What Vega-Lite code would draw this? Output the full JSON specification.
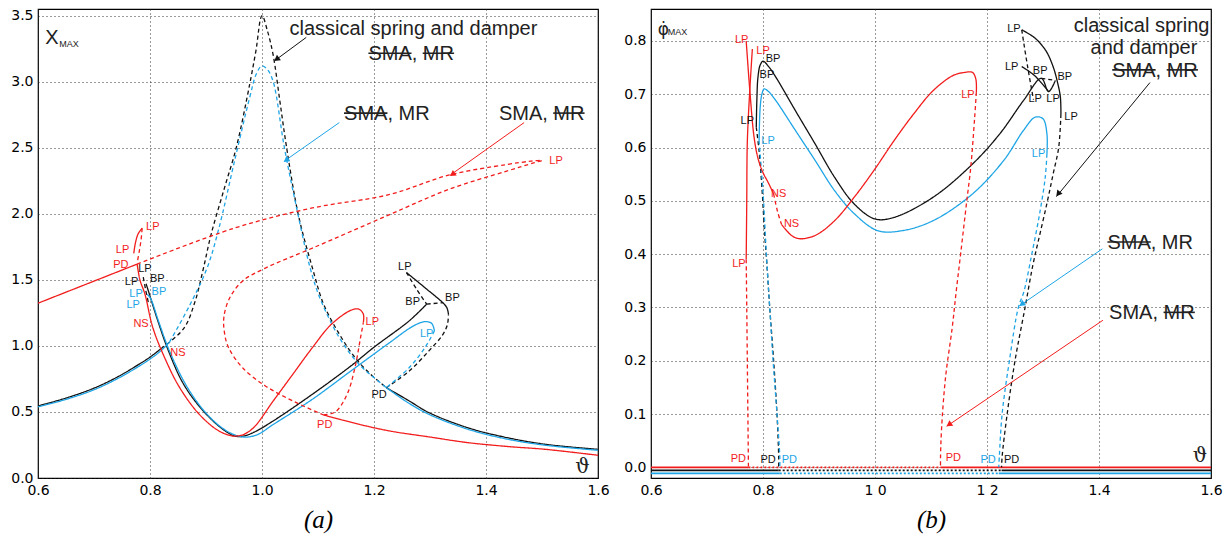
{
"$schema":"https://vega.github.io/schema/vega-lite/v6.json",
"background":"white",
"padding":{"left":10,"top":8,"right":5,"bottom":3},
"spacing":13,
"config":{
 "view":{"stroke":"#000","strokeWidth":1.2},
 "axis":{"grid":true,"gridColor":"#222","gridDash":[1,3],"gridWidth":1,"gridOpacity":0.9,"ticks":false,"domain":false,"labelFont":"DejaVu Sans","labelFontSize":14,"labelColor":"#000","labelPadding":5,"labelFlush":false,"labelOverlap":false,"labelBound":false,"titleFont":"Liberation Serif","titleFontStyle":"italic","titleFontWeight":"normal","titleFontSize":25,"titleColor":"#000","titlePadding":10}
},
"datasets":{
"curvesA":[
{"b":"A1","s":"classical","t":"stable","x":0.6,"y":0.545},{"b":"A1","s":"classical","t":"stable","x":0.65,"y":0.605},{"b":"A1","s":"classical","t":"stable","x":0.7,"y":0.68},{"b":"A1","s":"classical","t":"stable","x":0.742,"y":0.765},{"b":"A1","s":"classical","t":"stable","x":0.78,"y":0.86},{"b":"A1","s":"classical","t":"stable","x":0.8,"y":0.915},{"b":"A1","s":"classical","t":"stable","x":0.82,"y":0.98},
{"b":"A2","s":"classical","t":"unstable","x":0.82,"y":0.98},{"b":"A2","s":"classical","t":"unstable","x":0.86,"y":1.13},{"b":"A2","s":"classical","t":"unstable","x":0.88,"y":1.33},{"b":"A2","s":"classical","t":"unstable","x":0.895,"y":1.58},{"b":"A2","s":"classical","t":"unstable","x":0.909,"y":1.842},{"b":"A2","s":"classical","t":"unstable","x":0.933,"y":2.196},{"b":"A2","s":"classical","t":"unstable","x":0.954,"y":2.5},{"b":"A2","s":"classical","t":"unstable","x":0.978,"y":2.98},{"b":"A2","s":"classical","t":"unstable","x":0.989,"y":3.23},{"b":"A2","s":"classical","t":"unstable","x":1.0,"y":3.5},{"b":"A2","s":"classical","t":"unstable","x":1.01,"y":3.38},{"b":"A2","s":"classical","t":"unstable","x":1.02,"y":3.2},{"b":"A2","s":"classical","t":"unstable","x":1.032,"y":2.85},{"b":"A2","s":"classical","t":"unstable","x":1.044,"y":2.5},{"b":"A2","s":"classical","t":"unstable","x":1.065,"y":1.99},{"b":"A2","s":"classical","t":"unstable","x":1.09,"y":1.59},{"b":"A2","s":"classical","t":"unstable","x":1.11,"y":1.316},{"b":"A2","s":"classical","t":"unstable","x":1.138,"y":1.09},{"b":"A2","s":"classical","t":"unstable","x":1.166,"y":0.912},{"b":"A2","s":"classical","t":"unstable","x":1.194,"y":0.785},{"b":"A2","s":"classical","t":"unstable","x":1.222,"y":0.684},
{"b":"A3","s":"classical","t":"stable","x":1.222,"y":0.684},{"b":"A3","s":"classical","t":"stable","x":1.263,"y":0.583},{"b":"A3","s":"classical","t":"stable","x":1.298,"y":0.495},{"b":"A3","s":"classical","t":"stable","x":1.367,"y":0.381},{"b":"A3","s":"classical","t":"stable","x":1.437,"y":0.306},{"b":"A3","s":"classical","t":"stable","x":1.506,"y":0.255},{"b":"A3","s":"classical","t":"stable","x":1.6,"y":0.217},
{"b":"A4","s":"classical","t":"unstable","x":1.222,"y":0.684},{"b":"A4","s":"classical","t":"unstable","x":1.263,"y":0.81},{"b":"A4","s":"classical","t":"unstable","x":1.298,"y":0.962},{"b":"A4","s":"classical","t":"unstable","x":1.322,"y":1.08},{"b":"A4","s":"classical","t":"unstable","x":1.331,"y":1.16},{"b":"A4","s":"classical","t":"unstable","x":1.333,"y":1.24},
{"b":"A5","s":"classical","t":"stable","x":1.333,"y":1.24},{"b":"A5","s":"classical","t":"stable","x":1.33,"y":1.29},{"b":"A5","s":"classical","t":"stable","x":1.322,"y":1.33},{"b":"A5","s":"classical","t":"stable","x":1.294,"y":1.43},{"b":"A5","s":"classical","t":"stable","x":1.258,"y":1.555},
{"b":"A6","s":"classical","t":"unstable","x":1.258,"y":1.555},{"b":"A6","s":"classical","t":"unstable","x":1.276,"y":1.43},{"b":"A6","s":"classical","t":"unstable","x":1.294,"y":1.316},
{"b":"A7","s":"classical","t":"unstable","x":1.294,"y":1.316},{"b":"A7","s":"classical","t":"unstable","x":1.324,"y":1.328},
{"b":"A8","s":"classical","t":"stable","x":0.793,"y":1.47},{"b":"A8","s":"classical","t":"stable","x":0.798,"y":1.404},{"b":"A8","s":"classical","t":"stable","x":0.812,"y":1.215},{"b":"A8","s":"classical","t":"stable","x":0.833,"y":0.962},{"b":"A8","s":"classical","t":"stable","x":0.86,"y":0.71},{"b":"A8","s":"classical","t":"stable","x":0.895,"y":0.508},{"b":"A8","s":"classical","t":"stable","x":0.93,"y":0.369},{"b":"A8","s":"classical","t":"stable","x":0.951,"y":0.318},{"b":"A8","s":"classical","t":"stable","x":0.965,"y":0.315},{"b":"A8","s":"classical","t":"stable","x":0.985,"y":0.345},{"b":"A8","s":"classical","t":"stable","x":1.02,"y":0.432},{"b":"A8","s":"classical","t":"stable","x":1.09,"y":0.634},{"b":"A8","s":"classical","t":"stable","x":1.159,"y":0.849},{"b":"A8","s":"classical","t":"stable","x":1.2,"y":0.99},{"b":"A8","s":"classical","t":"stable","x":1.263,"y":1.19},{"b":"A8","s":"classical","t":"stable","x":1.294,"y":1.316},
{"b":"A9","s":"classical","t":"unstable","x":0.788,"y":1.52},{"b":"A9","s":"classical","t":"unstable","x":0.792,"y":1.43},{"b":"A9","s":"classical","t":"unstable","x":0.797,"y":1.33},
{"b":"C1","s":"MR","t":"stable","x":0.6,"y":0.538},{"b":"C1","s":"MR","t":"stable","x":0.65,"y":0.595},{"b":"C1","s":"MR","t":"stable","x":0.7,"y":0.668},{"b":"C1","s":"MR","t":"stable","x":0.742,"y":0.752},{"b":"C1","s":"MR","t":"stable","x":0.78,"y":0.845},{"b":"C1","s":"MR","t":"stable","x":0.8,"y":0.9},{"b":"C1","s":"MR","t":"stable","x":0.82,"y":0.965},{"b":"C1","s":"MR","t":"stable","x":0.835,"y":1.03},
{"b":"C2","s":"MR","t":"unstable","x":0.835,"y":1.03},{"b":"C2","s":"MR","t":"unstable","x":0.87,"y":1.3},{"b":"C2","s":"MR","t":"unstable","x":0.902,"y":1.59},{"b":"C2","s":"MR","t":"unstable","x":0.923,"y":1.89},{"b":"C2","s":"MR","t":"unstable","x":0.951,"y":2.4},{"b":"C2","s":"MR","t":"unstable","x":0.978,"y":2.88},{"b":"C2","s":"MR","t":"unstable","x":0.99,"y":3.06},{"b":"C2","s":"MR","t":"unstable","x":1.0,"y":3.12},{"b":"C2","s":"MR","t":"unstable","x":1.01,"y":3.09},{"b":"C2","s":"MR","t":"unstable","x":1.02,"y":3.0},{"b":"C2","s":"MR","t":"unstable","x":1.04,"y":2.5},{"b":"C2","s":"MR","t":"unstable","x":1.062,"y":2.04},{"b":"C2","s":"MR","t":"unstable","x":1.086,"y":1.59},{"b":"C2","s":"MR","t":"unstable","x":1.103,"y":1.366},{"b":"C2","s":"MR","t":"unstable","x":1.138,"y":1.063},{"b":"C2","s":"MR","t":"unstable","x":1.173,"y":0.861},{"b":"C2","s":"MR","t":"unstable","x":1.2,"y":0.76},{"b":"C2","s":"MR","t":"unstable","x":1.222,"y":0.684},
{"b":"C3","s":"MR","t":"stable","x":1.222,"y":0.684},{"b":"C3","s":"MR","t":"stable","x":1.26,"y":0.572},{"b":"C3","s":"MR","t":"stable","x":1.298,"y":0.482},{"b":"C3","s":"MR","t":"stable","x":1.367,"y":0.37},{"b":"C3","s":"MR","t":"stable","x":1.437,"y":0.295},{"b":"C3","s":"MR","t":"stable","x":1.506,"y":0.248},{"b":"C3","s":"MR","t":"stable","x":1.6,"y":0.21},
{"b":"C4","s":"MR","t":"stable","x":0.795,"y":1.39},{"b":"C4","s":"MR","t":"stable","x":0.801,"y":1.36},{"b":"C4","s":"MR","t":"stable","x":0.815,"y":1.19},{"b":"C4","s":"MR","t":"stable","x":0.836,"y":0.949},{"b":"C4","s":"MR","t":"stable","x":0.867,"y":0.684},{"b":"C4","s":"MR","t":"stable","x":0.902,"y":0.482},{"b":"C4","s":"MR","t":"stable","x":0.937,"y":0.356},{"b":"C4","s":"MR","t":"stable","x":0.965,"y":0.311},{"b":"C4","s":"MR","t":"stable","x":0.99,"y":0.325},{"b":"C4","s":"MR","t":"stable","x":1.02,"y":0.405},{"b":"C4","s":"MR","t":"stable","x":1.09,"y":0.596},{"b":"C4","s":"MR","t":"stable","x":1.159,"y":0.811},{"b":"C4","s":"MR","t":"stable","x":1.228,"y":1.025},{"b":"C4","s":"MR","t":"stable","x":1.27,"y":1.15},{"b":"C4","s":"MR","t":"stable","x":1.291,"y":1.184},{"b":"C4","s":"MR","t":"stable","x":1.303,"y":1.17},{"b":"C4","s":"MR","t":"stable","x":1.308,"y":1.114},
{"b":"C5","s":"MR","t":"unstable","x":1.308,"y":1.114},{"b":"C5","s":"MR","t":"unstable","x":1.291,"y":0.987},{"b":"C5","s":"MR","t":"unstable","x":1.263,"y":0.836},{"b":"C5","s":"MR","t":"unstable","x":1.222,"y":0.684},
{"b":"R1","s":"SMA","t":"stable","x":0.6,"y":1.323},{"b":"R1","s":"SMA","t":"stable","x":0.777,"y":1.619},
{"b":"R2","s":"SMA","t":"unstable","x":0.777,"y":1.619},{"b":"R2","s":"SMA","t":"unstable","x":0.951,"y":1.892},{"b":"R2","s":"SMA","t":"unstable","x":1.09,"y":2.044},{"b":"R2","s":"SMA","t":"unstable","x":1.228,"y":2.146},{"b":"R2","s":"SMA","t":"unstable","x":1.333,"y":2.292},{"b":"R2","s":"SMA","t":"unstable","x":1.437,"y":2.373},{"b":"R2","s":"SMA","t":"unstable","x":1.48,"y":2.398},{"b":"R2","s":"SMA","t":"unstable","x":1.5,"y":2.404},{"b":"R2","s":"SMA","t":"unstable","x":1.485,"y":2.385},{"b":"R2","s":"SMA","t":"unstable","x":1.437,"y":2.323},{"b":"R2","s":"SMA","t":"unstable","x":1.333,"y":2.184},{"b":"R2","s":"SMA","t":"unstable","x":1.228,"y":1.994},{"b":"R2","s":"SMA","t":"unstable","x":1.09,"y":1.74},{"b":"R2","s":"SMA","t":"unstable","x":1.006,"y":1.589},{"b":"R2","s":"SMA","t":"unstable","x":0.965,"y":1.49},{"b":"R2","s":"SMA","t":"unstable","x":0.942,"y":1.36},{"b":"R2","s":"SMA","t":"unstable","x":0.932,"y":1.22},{"b":"R2","s":"SMA","t":"unstable","x":0.933,"y":1.1},{"b":"R2","s":"SMA","t":"unstable","x":0.94,"y":0.99},{"b":"R2","s":"SMA","t":"unstable","x":0.965,"y":0.836},{"b":"R2","s":"SMA","t":"unstable","x":1.006,"y":0.697},{"b":"R2","s":"SMA","t":"unstable","x":1.055,"y":0.583},{"b":"R2","s":"SMA","t":"unstable","x":1.11,"y":0.477},
{"b":"R3","s":"SMA","t":"stable","x":1.11,"y":0.477},{"b":"R3","s":"SMA","t":"stable","x":1.17,"y":0.41},{"b":"R3","s":"SMA","t":"stable","x":1.228,"y":0.356},{"b":"R3","s":"SMA","t":"stable","x":1.3,"y":0.31},{"b":"R3","s":"SMA","t":"stable","x":1.367,"y":0.268},{"b":"R3","s":"SMA","t":"stable","x":1.44,"y":0.238},{"b":"R3","s":"SMA","t":"stable","x":1.506,"y":0.217},{"b":"R3","s":"SMA","t":"stable","x":1.6,"y":0.172},
{"b":"R4","s":"SMA","t":"unstable","x":1.11,"y":0.477},{"b":"R4","s":"SMA","t":"unstable","x":1.131,"y":0.5},{"b":"R4","s":"SMA","t":"unstable","x":1.152,"y":0.634},{"b":"R4","s":"SMA","t":"unstable","x":1.166,"y":0.836},{"b":"R4","s":"SMA","t":"unstable","x":1.176,"y":1.063},{"b":"R4","s":"SMA","t":"unstable","x":1.181,"y":1.177},
{"b":"R5","s":"SMA","t":"stable","x":1.181,"y":1.177},{"b":"R5","s":"SMA","t":"stable","x":1.181,"y":1.24},{"b":"R5","s":"SMA","t":"stable","x":1.173,"y":1.278},{"b":"R5","s":"SMA","t":"stable","x":1.159,"y":1.27},{"b":"R5","s":"SMA","t":"stable","x":1.124,"y":1.164},{"b":"R5","s":"SMA","t":"stable","x":1.09,"y":0.987},{"b":"R5","s":"SMA","t":"stable","x":1.055,"y":0.785},{"b":"R5","s":"SMA","t":"stable","x":1.02,"y":0.583},{"b":"R5","s":"SMA","t":"stable","x":0.985,"y":0.381},{"b":"R5","s":"SMA","t":"stable","x":0.965,"y":0.325},{"b":"R5","s":"SMA","t":"stable","x":0.954,"y":0.318},
{"b":"R6","s":"SMA","t":"stable","x":0.777,"y":1.619},{"b":"R6","s":"SMA","t":"stable","x":0.782,"y":1.5},{"b":"R6","s":"SMA","t":"stable","x":0.791,"y":1.391},{"b":"R6","s":"SMA","t":"stable","x":0.805,"y":1.139},{"b":"R6","s":"SMA","t":"stable","x":0.826,"y":0.912},{"b":"R6","s":"SMA","t":"stable","x":0.853,"y":0.684},{"b":"R6","s":"SMA","t":"stable","x":0.888,"y":0.482},{"b":"R6","s":"SMA","t":"stable","x":0.923,"y":0.356},{"b":"R6","s":"SMA","t":"stable","x":0.947,"y":0.318},{"b":"R6","s":"SMA","t":"stable","x":0.954,"y":0.318},
{"b":"R7","s":"SMA","t":"stable","x":0.771,"y":1.7},{"b":"R7","s":"SMA","t":"stable","x":0.774,"y":1.78},{"b":"R7","s":"SMA","t":"stable","x":0.779,"y":1.85},{"b":"R7","s":"SMA","t":"stable","x":0.786,"y":1.89},
{"b":"R8","s":"SMA","t":"unstable","x":0.786,"y":1.89},{"b":"R8","s":"SMA","t":"unstable","x":0.784,"y":1.8},{"b":"R8","s":"SMA","t":"unstable","x":0.781,"y":1.72},{"b":"R8","s":"SMA","t":"unstable","x":0.778,"y":1.65}
],
"labelsA":[
{"x":0.805,"y":1.897,"text":"LP","s":"SMA"},{"x":0.751,"y":1.728,"text":"LP","s":"SMA"},{"x":0.748,"y":1.61,"text":"PD","s":"SMA"},{"x":0.791,"y":1.585,"text":"LP","s":"classical"},{"x":0.813,"y":1.505,"text":"BP","s":"classical"},{"x":0.767,"y":1.48,"text":"LP","s":"classical"},{"x":0.775,"y":1.395,"text":"LP","s":"MR"},{"x":0.816,"y":1.41,"text":"BP","s":"MR"},{"x":0.77,"y":1.31,"text":"LP","s":"MR"},{"x":0.784,"y":1.164,"text":"NS","s":"SMA"},{"x":0.85,"y":0.949,"text":"NS","s":"SMA"},{"x":1.197,"y":1.184,"text":"LP","s":"SMA"},{"x":1.525,"y":2.4,"text":"LP","s":"SMA"},{"x":1.255,"y":1.6,"text":"LP","s":"classical"},{"x":1.269,"y":1.333,"text":"BP","s":"classical"},{"x":1.34,"y":1.366,"text":"BP","s":"classical"},{"x":1.294,"y":1.093,"text":"LP","s":"MR"},{"x":1.209,"y":0.629,"text":"PD","s":"classical"},{"x":1.112,"y":0.399,"text":"PD","s":"SMA"}
],
"annA":[
{"x":1.049,"y":3.35,"text":"classical spring and damper"},{"x":1.19,"y":3.163,"text":"SMA, MR"},{"x":1.1465,"y":2.71,"text":"SMA, MR"},{"x":1.423,"y":2.71,"text":"SMA, MR"}
],
"strikeA":[
{"x":1.19,"x2":1.267,"y":3.215},{"x":1.287,"x2":1.343,"y":3.215},{"x":1.1465,"x2":1.224,"y":2.762},{"x":1.52,"x2":1.576,"y":2.762}
],
"arrowsA":[
{"s":"classical","x":1.079,"y":3.335,"x2":1.024,"y2":3.163},{"s":"MR","x":1.138,"y":2.69,"x2":1.04,"y2":2.399},{"s":"SMA","x":1.468,"y":2.69,"x2":1.336,"y2":2.292}
],
"headsA":[
{"s":"classical","x":1.026,"y":3.17,"ang":234},{"s":"MR","x":1.043,"y":2.405,"ang":235},{"s":"SMA","x":1.34,"y":2.298,"ang":235}
],
"curvesB":[
{"b":"B1","s":"classical","t":"stable","x":0.788,"y":0.638},{"b":"B1","s":"classical","t":"stable","x":0.789,"y":0.688},{"b":"B1","s":"classical","t":"stable","x":0.791,"y":0.732},{"b":"B1","s":"classical","t":"stable","x":0.795,"y":0.755},{"b":"B1","s":"classical","t":"stable","x":0.8,"y":0.762},{"b":"B1","s":"classical","t":"stable","x":0.81,"y":0.752},{"b":"B1","s":"classical","t":"stable","x":0.823,"y":0.732},{"b":"B1","s":"classical","t":"stable","x":0.858,"y":0.669},{"b":"B1","s":"classical","t":"stable","x":0.893,"y":0.607},{"b":"B1","s":"classical","t":"stable","x":0.928,"y":0.544},{"b":"B1","s":"classical","t":"stable","x":0.963,"y":0.494},{"b":"B1","s":"classical","t":"stable","x":1.0,"y":0.466},{"b":"B1","s":"classical","t":"stable","x":1.034,"y":0.469},{"b":"B1","s":"classical","t":"stable","x":1.104,"y":0.507},{"b":"B1","s":"classical","t":"stable","x":1.174,"y":0.569},{"b":"B1","s":"classical","t":"stable","x":1.223,"y":0.626},{"b":"B1","s":"classical","t":"stable","x":1.265,"y":0.688},{"b":"B1","s":"classical","t":"stable","x":1.297,"y":0.73},{"b":"B1","s":"classical","t":"stable","x":1.31,"y":0.705},{"b":"B1","s":"classical","t":"stable","x":1.322,"y":0.726},
{"b":"B2","s":"classical","t":"stable","x":1.262,"y":0.752},{"b":"B2","s":"classical","t":"stable","x":1.285,"y":0.735},{"b":"B2","s":"classical","t":"stable","x":1.31,"y":0.705},
{"b":"B3","s":"classical","t":"stable","x":1.262,"y":0.821},{"b":"B3","s":"classical","t":"stable","x":1.285,"y":0.806},{"b":"B3","s":"classical","t":"stable","x":1.305,"y":0.782},{"b":"B3","s":"classical","t":"stable","x":1.318,"y":0.752},{"b":"B3","s":"classical","t":"stable","x":1.326,"y":0.722},{"b":"B3","s":"classical","t":"stable","x":1.331,"y":0.695},{"b":"B3","s":"classical","t":"stable","x":1.332,"y":0.663},
{"b":"B4","s":"classical","t":"unstable","x":1.262,"y":0.821},{"b":"B4","s":"classical","t":"unstable","x":1.272,"y":0.755},{"b":"B4","s":"classical","t":"unstable","x":1.283,"y":0.69},
{"b":"B5","s":"classical","t":"unstable","x":1.297,"y":0.73},{"b":"B5","s":"classical","t":"unstable","x":1.322,"y":0.726},
{"b":"B6","s":"classical","t":"unstable","x":1.332,"y":0.663},{"b":"B6","s":"classical","t":"unstable","x":1.328,"y":0.6},{"b":"B6","s":"classical","t":"unstable","x":1.318,"y":0.55},{"b":"B6","s":"classical","t":"unstable","x":1.308,"y":0.5},{"b":"B6","s":"classical","t":"unstable","x":1.295,"y":0.44},{"b":"B6","s":"classical","t":"unstable","x":1.282,"y":0.38},{"b":"B6","s":"classical","t":"unstable","x":1.268,"y":0.3},{"b":"B6","s":"classical","t":"unstable","x":1.25,"y":0.2},{"b":"B6","s":"classical","t":"unstable","x":1.236,"y":0.1},{"b":"B6","s":"classical","t":"unstable","x":1.227,"y":0.02},{"b":"B6","s":"classical","t":"unstable","x":1.226,"y":0.0},
{"b":"B7","s":"classical","t":"unstable","x":0.788,"y":0.638},{"b":"B7","s":"classical","t":"unstable","x":0.793,"y":0.594},{"b":"B7","s":"classical","t":"unstable","x":0.798,"y":0.526},{"b":"B7","s":"classical","t":"unstable","x":0.803,"y":0.438},{"b":"B7","s":"classical","t":"unstable","x":0.807,"y":0.38},{"b":"B7","s":"classical","t":"unstable","x":0.812,"y":0.3},{"b":"B7","s":"classical","t":"unstable","x":0.819,"y":0.2},{"b":"B7","s":"classical","t":"unstable","x":0.825,"y":0.1},{"b":"B7","s":"classical","t":"unstable","x":0.828,"y":0.02},{"b":"B7","s":"classical","t":"unstable","x":0.828,"y":0.0},
{"b":"M1","s":"MR","t":"stable","x":0.793,"y":0.613},{"b":"M1","s":"MR","t":"stable","x":0.795,"y":0.676},{"b":"M1","s":"MR","t":"stable","x":0.798,"y":0.7},{"b":"M1","s":"MR","t":"stable","x":0.802,"y":0.71},{"b":"M1","s":"MR","t":"stable","x":0.81,"y":0.705},{"b":"M1","s":"MR","t":"stable","x":0.823,"y":0.688},{"b":"M1","s":"MR","t":"stable","x":0.858,"y":0.632},{"b":"M1","s":"MR","t":"stable","x":0.893,"y":0.576},{"b":"M1","s":"MR","t":"stable","x":0.928,"y":0.519},{"b":"M1","s":"MR","t":"stable","x":0.963,"y":0.476},{"b":"M1","s":"MR","t":"stable","x":1.005,"y":0.444},{"b":"M1","s":"MR","t":"stable","x":1.048,"y":0.444},{"b":"M1","s":"MR","t":"stable","x":1.104,"y":0.463},{"b":"M1","s":"MR","t":"stable","x":1.174,"y":0.513},{"b":"M1","s":"MR","t":"stable","x":1.23,"y":0.576},{"b":"M1","s":"MR","t":"stable","x":1.265,"y":0.632},{"b":"M1","s":"MR","t":"stable","x":1.286,"y":0.657},{"b":"M1","s":"MR","t":"stable","x":1.3,"y":0.654},{"b":"M1","s":"MR","t":"stable","x":1.307,"y":0.626},{"b":"M1","s":"MR","t":"stable","x":1.307,"y":0.588},
{"b":"M2","s":"MR","t":"unstable","x":1.307,"y":0.588},{"b":"M2","s":"MR","t":"unstable","x":1.304,"y":0.544},{"b":"M2","s":"MR","t":"unstable","x":1.294,"y":0.476},{"b":"M2","s":"MR","t":"unstable","x":1.28,"y":0.4},{"b":"M2","s":"MR","t":"unstable","x":1.266,"y":0.33},{"b":"M2","s":"MR","t":"unstable","x":1.256,"y":0.3},{"b":"M2","s":"MR","t":"unstable","x":1.24,"y":0.2},{"b":"M2","s":"MR","t":"unstable","x":1.227,"y":0.1},{"b":"M2","s":"MR","t":"unstable","x":1.222,"y":0.02},{"b":"M2","s":"MR","t":"unstable","x":1.221,"y":0.0},
{"b":"M3","s":"MR","t":"unstable","x":0.793,"y":0.613},{"b":"M3","s":"MR","t":"unstable","x":0.797,"y":0.56},{"b":"M3","s":"MR","t":"unstable","x":0.801,"y":0.5},{"b":"M3","s":"MR","t":"unstable","x":0.806,"y":0.4},{"b":"M3","s":"MR","t":"unstable","x":0.812,"y":0.3},{"b":"M3","s":"MR","t":"unstable","x":0.818,"y":0.2},{"b":"M3","s":"MR","t":"unstable","x":0.825,"y":0.1},{"b":"M3","s":"MR","t":"unstable","x":0.83,"y":0.02},{"b":"M3","s":"MR","t":"unstable","x":0.83,"y":0.0},
{"b":"S1","s":"SMA","t":"stable","x":0.77,"y":0.8},{"b":"S1","s":"SMA","t":"stable","x":0.777,"y":0.7},{"b":"S1","s":"SMA","t":"stable","x":0.784,"y":0.62},{"b":"S1","s":"SMA","t":"stable","x":0.791,"y":0.58},{"b":"S1","s":"SMA","t":"stable","x":0.8,"y":0.553},{"b":"S1","s":"SMA","t":"stable","x":0.809,"y":0.535},{"b":"S1","s":"SMA","t":"stable","x":0.819,"y":0.513},
{"b":"S2","s":"SMA","t":"stable","x":0.781,"y":0.785},{"b":"S2","s":"SMA","t":"stable","x":0.776,"y":0.7},{"b":"S2","s":"SMA","t":"stable","x":0.772,"y":0.61},{"b":"S2","s":"SMA","t":"stable","x":0.771,"y":0.5},{"b":"S2","s":"SMA","t":"stable","x":0.77,"y":0.39},
{"b":"S3","s":"SMA","t":"unstable","x":0.77,"y":0.39},{"b":"S3","s":"SMA","t":"unstable","x":0.771,"y":0.3},{"b":"S3","s":"SMA","t":"unstable","x":0.772,"y":0.2},{"b":"S3","s":"SMA","t":"unstable","x":0.773,"y":0.1},{"b":"S3","s":"SMA","t":"unstable","x":0.774,"y":0.0},
{"b":"S4","s":"SMA","t":"unstable","x":0.819,"y":0.513},{"b":"S4","s":"SMA","t":"unstable","x":0.826,"y":0.48},{"b":"S4","s":"SMA","t":"unstable","x":0.833,"y":0.456},
{"b":"S5","s":"SMA","t":"stable","x":0.833,"y":0.456},{"b":"S5","s":"SMA","t":"stable","x":0.851,"y":0.435},{"b":"S5","s":"SMA","t":"stable","x":0.865,"y":0.429},{"b":"S5","s":"SMA","t":"stable","x":0.893,"y":0.435},{"b":"S5","s":"SMA","t":"stable","x":0.928,"y":0.463},{"b":"S5","s":"SMA","t":"stable","x":0.963,"y":0.507},{"b":"S5","s":"SMA","t":"stable","x":0.998,"y":0.557},{"b":"S5","s":"SMA","t":"stable","x":1.034,"y":0.613},{"b":"S5","s":"SMA","t":"stable","x":1.069,"y":0.663},{"b":"S5","s":"SMA","t":"stable","x":1.104,"y":0.707},{"b":"S5","s":"SMA","t":"stable","x":1.139,"y":0.735},{"b":"S5","s":"SMA","t":"stable","x":1.16,"y":0.741},{"b":"S5","s":"SMA","t":"stable","x":1.174,"y":0.741},{"b":"S5","s":"SMA","t":"stable","x":1.18,"y":0.729},{"b":"S5","s":"SMA","t":"stable","x":1.181,"y":0.704},
{"b":"S6","s":"SMA","t":"unstable","x":1.181,"y":0.704},{"b":"S6","s":"SMA","t":"unstable","x":1.178,"y":0.657},{"b":"S6","s":"SMA","t":"unstable","x":1.171,"y":0.563},{"b":"S6","s":"SMA","t":"unstable","x":1.164,"y":0.501},{"b":"S6","s":"SMA","t":"unstable","x":1.153,"y":0.401},{"b":"S6","s":"SMA","t":"unstable","x":1.145,"y":0.33},{"b":"S6","s":"SMA","t":"unstable","x":1.138,"y":0.263},{"b":"S6","s":"SMA","t":"unstable","x":1.126,"y":0.169},{"b":"S6","s":"SMA","t":"unstable","x":1.119,"y":0.075},{"b":"S6","s":"SMA","t":"unstable","x":1.117,"y":0.019},{"b":"S6","s":"SMA","t":"unstable","x":1.117,"y":0.0}
],
"baseB":[
{"b":"Z1","s":"SMA","t":"stable","x":0.6,"y":0.0},{"b":"Z1","s":"SMA","t":"stable","x":0.774,"y":0.0},
{"b":"Z2","s":"SMA","t":"unstable","x":0.774,"y":0.0},{"b":"Z2","s":"SMA","t":"unstable","x":1.117,"y":0.0},
{"b":"Z3","s":"SMA","t":"stable","x":1.117,"y":0.0},{"b":"Z3","s":"SMA","t":"stable","x":1.6,"y":0.0},
{"b":"Z4","s":"classical","t":"stable","x":0.6,"y":-0.0056},{"b":"Z4","s":"classical","t":"stable","x":0.828,"y":-0.0056},
{"b":"Z5","s":"classical","t":"unstable","x":0.828,"y":-0.0056},{"b":"Z5","s":"classical","t":"unstable","x":1.226,"y":-0.0056},
{"b":"Z6","s":"classical","t":"stable","x":1.226,"y":-0.0056},{"b":"Z6","s":"classical","t":"stable","x":1.6,"y":-0.0056},
{"b":"Z7","s":"MR","t":"stable","x":0.6,"y":-0.0113},{"b":"Z7","s":"MR","t":"stable","x":0.83,"y":-0.0113},
{"b":"Z8","s":"MR","t":"unstable","x":0.83,"y":-0.0113},{"b":"Z8","s":"MR","t":"unstable","x":1.221,"y":-0.0113},
{"b":"Z9","s":"MR","t":"stable","x":1.221,"y":-0.0113},{"b":"Z9","s":"MR","t":"stable","x":1.6,"y":-0.0113}
],
"labelsB":[
{"x":0.762,"y":0.802,"text":"LP","s":"SMA"},{"x":0.8,"y":0.782,"text":"LP","s":"SMA"},{"x":0.818,"y":0.767,"text":"BP","s":"classical"},{"x":0.807,"y":0.737,"text":"BP","s":"classical"},{"x":0.772,"y":0.649,"text":"LP","s":"classical"},{"x":0.809,"y":0.612,"text":"LP","s":"MR"},{"x":0.828,"y":0.513,"text":"NS","s":"SMA"},{"x":0.851,"y":0.456,"text":"NS","s":"SMA"},{"x":0.757,"y":0.382,"text":"LP","s":"SMA"},{"x":1.166,"y":0.699,"text":"LP","s":"SMA"},{"x":1.248,"y":0.822,"text":"LP","s":"classical"},{"x":1.244,"y":0.752,"text":"LP","s":"classical"},{"x":1.295,"y":0.744,"text":"BP","s":"classical"},{"x":1.339,"y":0.733,"text":"BP","s":"classical"},{"x":1.286,"y":0.691,"text":"LP","s":"classical"},{"x":1.318,"y":0.691,"text":"LP","s":"classical"},{"x":1.35,"y":0.658,"text":"LP","s":"classical"},{"x":1.292,"y":0.588,"text":"LP","s":"MR"},{"x":0.756,"y":0.016,"text":"PD","s":"SMA"},{"x":0.809,"y":0.014,"text":"PD","s":"classical"},{"x":0.847,"y":0.014,"text":"PD","s":"MR"},{"x":1.14,"y":0.018,"text":"PD","s":"SMA"},{"x":1.202,"y":0.014,"text":"PD","s":"MR"},{"x":1.244,"y":0.014,"text":"PD","s":"classical"}
],
"annB":[
{"x":1.355,"y":0.8175,"text":"classical spring"},{"x":1.385,"y":0.7756,"text":"and damper"},{"x":1.4236,"y":0.733,"text":"SMA, MR"},{"x":1.415,"y":0.41,"text":"SMA, MR"},{"x":1.418,"y":0.278,"text":"SMA, MR"}
],
"strikeB":[
{"x":1.4236,"x2":1.5011,"y":0.7458},{"x":1.5209,"x2":1.5767,"y":0.7458},{"x":1.415,"x2":1.4925,"y":0.4228},{"x":1.5153,"x2":1.5711,"y":0.2908}
],
"arrowsB":[
{"s":"classical","x":1.491,"y":0.722,"x2":1.324,"y2":0.508},{"s":"MR","x":1.406,"y":0.41,"x2":1.258,"y2":0.303},{"s":"SMA","x":1.407,"y":0.276,"x2":1.128,"y2":0.077}
],
"headsB":[
{"s":"classical","x":1.327,"y":0.513,"ang":218},{"s":"MR","x":1.262,"y":0.306,"ang":235},{"s":"SMA","x":1.132,"y":0.08,"ang":236}
]
},
"hconcat":[
{
 "width":560,"height":469,
 "encoding":{
  "x":{"field":"x","type":"quantitative","scale":{"domain":[0.6,1.6],"nice":false,"zero":false},"axis":{"values":[0.6,0.8,1.0,1.2,1.4,1.6],"format":".1f","title":"(a)"}},
  "y":{"field":"y","type":"quantitative","scale":{"domain":[0,3.55],"nice":false,"zero":false},"axis":{"values":[0,0.5,1,1.5,2,2.5,3,3.5],"format":".1f","title":null}}
 },
 "layer":[
  {"data":{"name":"curvesA"},"mark":{"type":"line","strokeWidth":1.3,"clip":true,"interpolate":"catmull-rom"},
   "encoding":{"detail":{"field":"b"},"order":{"value":null},
    "color":{"field":"s","type":"nominal","scale":{"domain":["classical","MR","SMA"],"range":["#111111","#1ea5e6","#f21c1c"]},"legend":null},
    "strokeDash":{"field":"t","type":"nominal","scale":{"domain":["stable","unstable"],"range":[[1,0],[4,3]]},"legend":null}}},
  {"data":{"name":"labelsA"},"mark":{"type":"text","font":"Liberation Sans","fontSize":11,"align":"center","baseline":"middle"},
   "encoding":{"text":{"field":"text"},"color":{"field":"s","type":"nominal","scale":{"domain":["classical","MR","SMA"],"range":["#111111","#1ea5e6","#f21c1c"]},"legend":null}}},
  {"data":{"name":"annA"},"mark":{"type":"text","font":"Liberation Sans","fontSize":20,"align":"left","baseline":"alphabetic","color":"#222"},
   "encoding":{"text":{"field":"text"}}},
  {"data":{"name":"strikeA"},"mark":{"type":"rule","color":"#222","strokeWidth":1.6},
   "encoding":{"x2":{"field":"x2"}}},
  {"data":{"name":"arrowsA"},"mark":{"type":"rule","strokeWidth":1},
   "encoding":{"x2":{"field":"x2"},"y2":{"field":"y2"},"color":{"field":"s","type":"nominal","scale":{"domain":["classical","MR","SMA"],"range":["#111111","#1ea5e6","#f21c1c"]},"legend":null}}},
  {"data":{"name":"headsA"},"mark":{"type":"point","shape":"triangle-up","filled":true,"size":45,"opacity":1},
   "encoding":{"angle":{"field":"ang","type":"quantitative","scale":{"domain":[0,360],"range":[0,360]}},"color":{"field":"s","type":"nominal","scale":{"domain":["classical","MR","SMA"],"range":["#111111","#1ea5e6","#f21c1c"]},"legend":null}}},
  {"data":{"values":[{"x":0.613,"y":3.285,"text":"X"}]},"mark":{"type":"text","font":"Liberation Sans","fontSize":20,"align":"left","baseline":"alphabetic","color":"#222"},"encoding":{"text":{"field":"text"}}},
  {"data":{"values":[{"x":0.638,"y":3.262,"text":"MAX"}]},"mark":{"type":"text","font":"Liberation Sans","fontSize":9,"align":"left","baseline":"alphabetic","color":"#222"},"encoding":{"text":{"field":"text"}}},
  {"data":{"values":[{"x":1.572,"y":0.04,"text":"ϑ"}]},"mark":{"type":"text","font":"DejaVu Serif","fontSize":20,"align":"center","baseline":"alphabetic","color":"#222"},"encoding":{"text":{"field":"text"}}}
 ]
},
{
 "width":560,"height":469,
 "resolve":{"scale":{"strokeDash":"independent"}},
 "encoding":{
  "x":{"field":"x","type":"quantitative","scale":{"domain":[0.6,1.6],"nice":false,"zero":false},"axis":{"values":[0.6,0.8,1.0,1.2,1.4,1.6],"labelExpr":"abs(datum.value-1)<0.001 ? '1 0' : abs(datum.value-1.2)<0.001 ? '1 2' : format(datum.value,'.1f')","title":"(b)"}},
  "y":{"field":"y","type":"quantitative","scale":{"domain":[-0.02,0.86],"nice":false,"zero":false},"axis":{"values":[0,0.1,0.2,0.3,0.4,0.5,0.6,0.7,0.8],"format":".1f","title":null}}
 },
 "layer":[
  {"data":{"name":"baseB"},"mark":{"type":"line","strokeWidth":1.8,"clip":true},
   "encoding":{"detail":{"field":"b"},"order":{"value":null},
    "color":{"field":"s","type":"nominal","scale":{"domain":["classical","MR","SMA"],"range":["#111111","#1ea5e6","#f21c1c"]},"legend":null},
    "strokeDash":{"field":"t","type":"nominal","scale":{"domain":["stable","unstable"],"range":[[1,0],[2,2]]},"legend":null}}},
  {"data":{"name":"curvesB"},"mark":{"type":"line","strokeWidth":1.3,"clip":true,"interpolate":"catmull-rom"},
   "encoding":{"detail":{"field":"b"},"order":{"value":null},
    "color":{"field":"s","type":"nominal","scale":{"domain":["classical","MR","SMA"],"range":["#111111","#1ea5e6","#f21c1c"]},"legend":null},
    "strokeDash":{"field":"t","type":"nominal","scale":{"domain":["stable","unstable"],"range":[[1,0],[4,3]]},"legend":null}}},
  {"data":{"name":"labelsB"},"mark":{"type":"text","font":"Liberation Sans","fontSize":11,"align":"center","baseline":"middle"},
   "encoding":{"text":{"field":"text"},"color":{"field":"s","type":"nominal","scale":{"domain":["classical","MR","SMA"],"range":["#111111","#1ea5e6","#f21c1c"]},"legend":null}}},
  {"data":{"name":"annB"},"mark":{"type":"text","font":"Liberation Sans","fontSize":20,"align":"left","baseline":"alphabetic","color":"#222"},
   "encoding":{"text":{"field":"text"}}},
  {"data":{"name":"strikeB"},"mark":{"type":"rule","color":"#222","strokeWidth":1.6},
   "encoding":{"x2":{"field":"x2"}}},
  {"data":{"name":"arrowsB"},"mark":{"type":"rule","strokeWidth":1},
   "encoding":{"x2":{"field":"x2"},"y2":{"field":"y2"},"color":{"field":"s","type":"nominal","scale":{"domain":["classical","MR","SMA"],"range":["#111111","#1ea5e6","#f21c1c"]},"legend":null}}},
  {"data":{"name":"headsB"},"mark":{"type":"point","shape":"triangle-up","filled":true,"size":45,"opacity":1},
   "encoding":{"angle":{"field":"ang","type":"quantitative","scale":{"domain":[0,360],"range":[0,360]}},"color":{"field":"s","type":"nominal","scale":{"domain":["classical","MR","SMA"],"range":["#111111","#1ea5e6","#f21c1c"]},"legend":null}}},
  {"data":{"values":[{"x":0.612,"y":0.812,"text":"φ̇"}]},"mark":{"type":"text","font":"DejaVu Sans","fontSize":17,"align":"left","baseline":"alphabetic","color":"#222"},"encoding":{"text":{"field":"text"}}},
  {"data":{"values":[{"x":0.63,"y":0.812,"text":"MAX"}]},"mark":{"type":"text","font":"Liberation Sans","fontSize":9,"align":"left","baseline":"alphabetic","color":"#222"},"encoding":{"text":{"field":"text"}}},
  {"data":{"values":[{"x":1.58,"y":0.01,"text":"ϑ"}]},"mark":{"type":"text","font":"DejaVu Serif","fontSize":20,"align":"center","baseline":"alphabetic","color":"#222"},"encoding":{"text":{"field":"text"}}}
 ]
}
]
}
